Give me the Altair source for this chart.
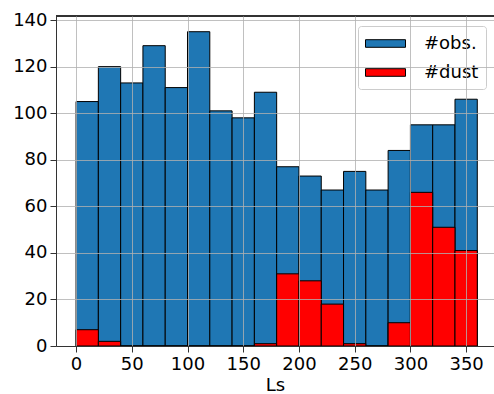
import altair as alt
import pandas as pd

bin_starts = list(range(0, 360, 20))
obs = [105, 120, 113, 129, 111, 135, 101, 98, 109, 77, 73, 67, 75, 67, 84, 95, 95, 106]
dust = [7, 2, 0, 0, 0, 0, 0, 0, 1, 31, 28, 18, 1, 0, 10, 66, 51, 41]
series_names = ["#obs.", "#dust"]
series_colors = ["#1f77b4", "#ff0000"]

rows = []
for name, vals in zip(series_names, [obs, dust]):
    for s, v in zip(bin_starts, vals):
        rows.append({"start": s, "end": s + 20, "count": v, "series": name})
df = pd.DataFrame(rows)

FONT = "DejaVu Sans"
W, H = 438, 330

bars = alt.Chart(df).mark_bar(stroke="black", strokeWidth=1, opacity=1).encode(
    x=alt.X("start:Q", scale=alt.Scale(domain=[-18, 375], nice=False, zero=False),
            axis=alt.Axis(values=[0, 50, 100, 150, 200, 250, 300, 350], title="Ls",
                          grid=True, zindex=1)),
    x2="end:Q",
    y=alt.Y("count:Q", stack=None, scale=alt.Scale(domain=[0, 141.75], nice=False),
            axis=alt.Axis(values=[0, 20, 40, 60, 80, 100, 120, 140], title=None,
                          grid=True, zindex=1)),
    y2=alt.datum(0),
    color=alt.Color("series:N", sort=series_names,
                    scale=alt.Scale(domain=series_names, range=series_colors),
                    legend=alt.Legend(
                        title=None, orient="none", legendX=302, legendY=10,
                        symbolType="M-1,-0.38L3,-0.38L3,0.38L-1,0.38Z",
                        symbolSize=400, symbolStrokeColor="black", symbolStrokeWidth=1,
                        symbolOpacity=1,
                        labelOffset=38, labelFontSize=18, labelFont=FONT, labelColor="black",
                        rowPadding=9, padding=7, strokeColor="#cccccc",
                        fillColor="rgba(255,255,255,0.8)", cornerRadius=3)),
    order=alt.Order("series_order:Q"),
).transform_calculate(series_order="datum.series == '#obs.' ? 0 : 1")

top = alt.Chart(df).mark_rule(color="#333333", strokeWidth=1).encode(
    x=alt.value(0), x2=alt.value(W), y=alt.value(0)
)

chart = alt.layer(bars, top).properties(
    width=W, height=H,
    autosize=alt.AutoSizeParams(type="none"),
    padding={"left": 56, "top": 16, "right": 0, "bottom": 48},
).configure_view(stroke=None).configure_axis(
    labelFont=FONT, labelFontSize=18, labelColor="black",
    titleFont=FONT, titleFontSize=18, titleFontWeight="normal", titleColor="black",
    domainColor="#333333", domainWidth=1, tickColor="#333333", tickSize=6,
    gridColor="#b0b0b0", gridOpacity=0.8, gridWidth=1, labelPadding=3,
).configure_axisX(titlePadding=3)

chart.save("out.html", embed_options={"renderer": "svg", "actions": False})
